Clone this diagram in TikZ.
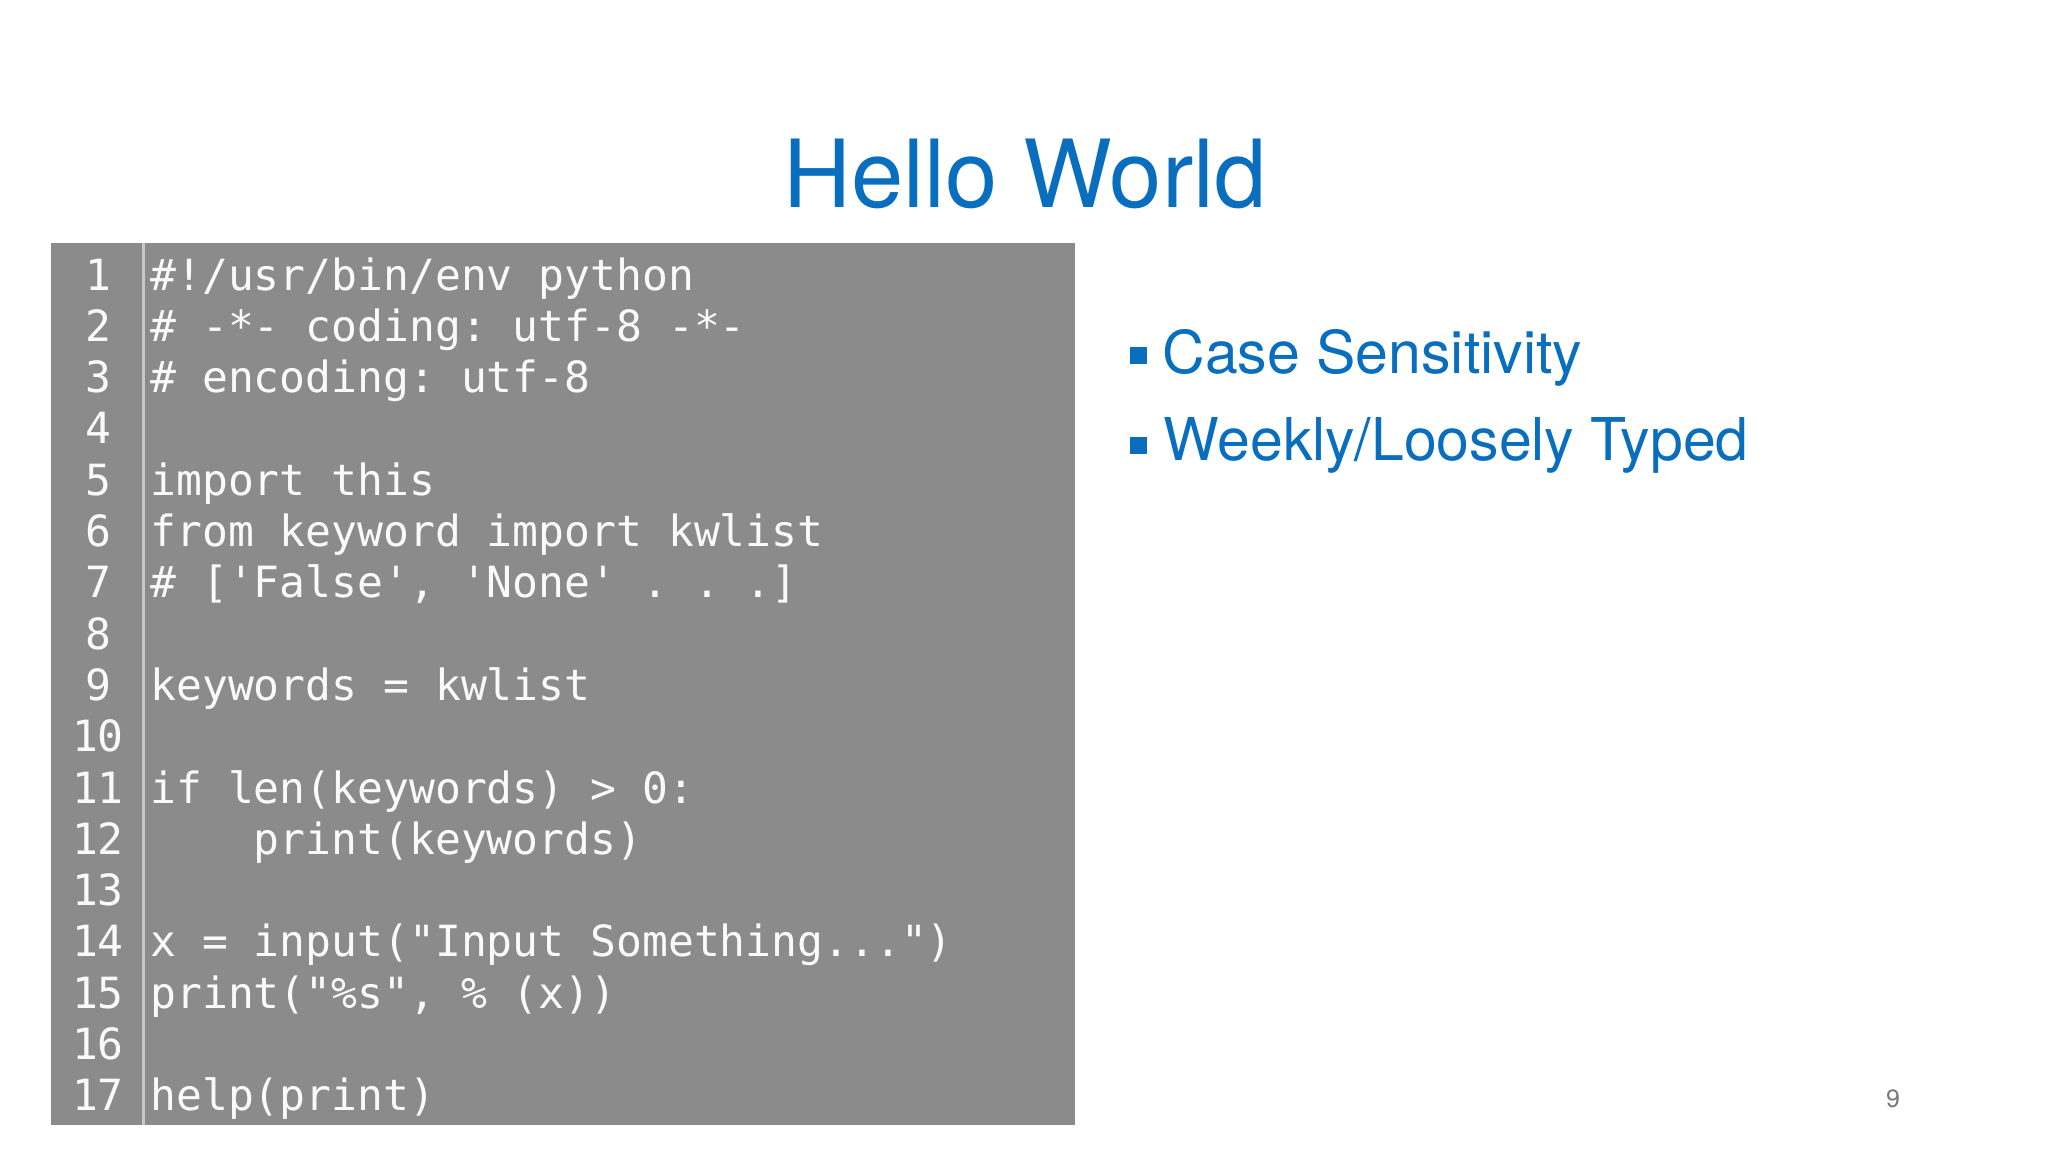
\documentclass[tikz,border=0pt]{standalone}
\usepackage{fontspec}
\setmonofont{DejaVu Sans Mono}
\newfontfamily\headfont{TeX Gyre Heros}
\newfontfamily\bulfont{TeX Gyre Heros}
\definecolor{slideblue}{RGB}{10,110,190}
\definecolor{panelgray}{RGB}{139,139,139}
\definecolor{dividergray}{RGB}{200,200,200}
\definecolor{codewhite}{RGB}{250,250,250}
\definecolor{pagegray}{RGB}{120,120,120}
\tikzset{
  codeline/.style={anchor=base west, inner sep=0pt, text=codewhite,
    font=\ttfamily\fontsize{21.5pt}{25pt}\selectfont},
  numline/.style={anchor=base, inner sep=0pt, text=codewhite,
    font=\ttfamily\fontsize{21.5pt}{25pt}\selectfont},
  bullettext/.style={anchor=base west, inner sep=0pt, text=slideblue,
    font=\bulfont\fontsize{29.5pt}{34pt}\selectfont},
  bulletsq/.style={fill=slideblue, inner sep=0pt, minimum size=8.5pt, anchor=north west},
}
\begin{document}
\begin{tikzpicture}[x=0.5pt,y=-0.5pt]
\useasboundingbox[fill=white] (0,0) rectangle (2048,1152);
% title
\node[anchor=base, inner sep=0pt, text=slideblue,
  font=\headfont\fontsize{47pt}{56pt}\selectfont] (title) at (1025,207) {Hello World};
% code panel
\fill[panelgray] (51,243) rectangle (1075,1125);
\draw[dividergray, line width=1.5pt] (143.5,243) -- (143.5,1125);
\foreach \i in {1,...,17} {
  \node[numline] (n\i) at (98,{290+(\i-1)*51.3}) {\i};
}
\def\cx{150}
\node[codeline] (c1)  at (\cx,290.0)  {\#!/usr/bin/env python};
\node[codeline] (c2)  at (\cx,341.3)  {\# -*- coding: utf-8 -*-};
\node[codeline] (c3)  at (\cx,392.6)  {\# encoding: utf-8};
\node[codeline] (c5)  at (\cx,495.2)  {import this};
\node[codeline] (c6)  at (\cx,546.5)  {from keyword import kwlist};
\node[codeline] (c7)  at (\cx,597.8)  {\# ['False', 'None' . . .]};
\node[codeline] (c9)  at (\cx,700.4)  {keywords = kwlist};
\node[codeline] (c11) at (\cx,803.0)  {if len(keywords) > 0:};
\node[codeline] (c12) at (\cx,854.3)  {\hspace*{2.408em}print(keywords)};
\node[codeline] (c14) at (\cx,956.9)  {x = input("Input Something...")};
\node[codeline] (c15) at (\cx,1008.2) {print("\%s", \% (x))};
\node[codeline] (c17) at (\cx,1110.8) {help(print)};
% bullets
\node[bulletsq] (s1) at (1130,347) {};
\node[bullettext] (b1) at (1162,373) {Case Sensitivity};
\node[bulletsq] (s2) at (1130,437) {};
\node[bullettext] (b2) at (1163,460) {Weekly/Loosely Typed};
% page number
\node[anchor=base, inner sep=0pt, text=pagegray,
  font=\headfont\fontsize{12.5pt}{15pt}\selectfont] (page) at (1893,1107) {9};
\end{tikzpicture}
\end{document}
